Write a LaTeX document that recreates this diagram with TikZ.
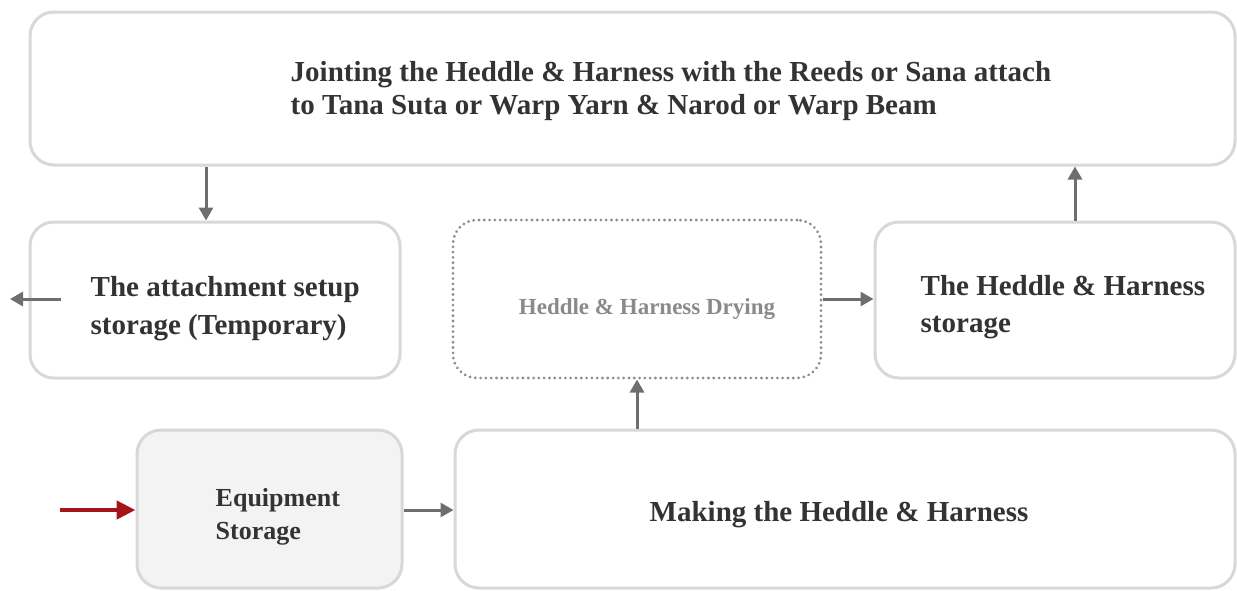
\documentclass[tikz,border=0pt]{standalone}
\usepackage{fontspec}
\setmainfont{Liberation Serif}
\usetikzlibrary{arrows.meta, positioning}
\definecolor{boxline}{HTML}{D8D8D8}
\definecolor{arrgray}{HTML}{6E6E6E}
\definecolor{txt}{HTML}{333333}
\definecolor{drytxt}{HTML}{8A8A8A}
\definecolor{dotgray}{HTML}{8C8C8C}
\definecolor{equipfill}{HTML}{F3F3F3}
\definecolor{inred}{HTML}{A3141B}

\begin{document}
\begin{tikzpicture}[x=1pt, y=-1pt,
  box/.style={draw=boxline, line width=3pt, rounded corners=24pt, fill=white, inner sep=0pt},
  dotbox/.style={draw=dotgray, line width=3pt, rounded corners=24pt,
    dash pattern=on 0.1pt off 5.2pt, line cap=round, inner sep=0pt},
  lbl/.style={text=txt, align=left, inner sep=0pt},
  arr/.style={draw=arrgray, line width=3pt, -{Triangle[length=13pt,width=14pt]}},
  redarr/.style={draw=inred, line width=4.5pt, -{Triangle[length=19pt,width=18pt]}}]

\useasboundingbox (0,0) rectangle (1237,590);

% Top box
\node[box, minimum width=1205pt, minimum height=153pt] (joint) at (632.5,88.5) {};
\node[lbl, anchor=west, font=\bfseries\fontsize{29}{33}\selectfont] (jointtxt)
  at ([xshift=262pt, yshift=-3pt]joint.west)
  {Jointing the Heddle \& Harness with the Reeds or Sana attach\\
   to Tana Suta or Warp Yarn \& Narod or Warp Beam};

% Middle row
\node[box, minimum width=370pt, minimum height=156pt] (attach) at (215,300) {};
\node[lbl, anchor=west, font=\bfseries\fontsize{29}{38}\selectfont] (attachtxt)
  at ([xshift=62pt, yshift=-9pt]attach.west)
  {The attachment setup\\storage (Temporary)};

\node[dotbox, minimum width=368pt, minimum height=158pt] (dry) at (637,299) {};
\node[lbl, text=drytxt, font=\bfseries\fontsize{23}{26}\selectfont] (drytxt)
  at ([xshift=10pt, yshift=-10pt]dry.center) {Heddle \& Harness Drying};

\node[box, minimum width=360pt, minimum height=156pt] (store) at (1055,300) {};
\node[lbl, anchor=west, font=\bfseries\fontsize{29}{37}\selectfont] (storetxt)
  at ([xshift=47pt, yshift=-7pt]store.west)
  {The Heddle \& Harness\\storage};

% Bottom row
\node[box, fill=equipfill, minimum width=265pt, minimum height=158pt] (equip) at (269.5,509) {};
\node[lbl, anchor=west, font=\bfseries\fontsize{26}{33}\selectfont] (equiptxt)
  at ([xshift=80pt, yshift=-8pt]equip.west)
  {Equipment\\Storage};

\node[box, minimum width=780pt, minimum height=158pt] (make) at (845,509) {};
\node[lbl, font=\bfseries\fontsize{29}{33}\selectfont] (maketxt)
  at ([xshift=-6pt, yshift=-6pt]make.center) {Making the Heddle \& Harness};

% Free ends
\coordinate (entry) at (60,510);
\coordinate (exit) at (10,299);

% Connectors
\draw[redarr] (entry) -- (equip.west |- entry);
\draw[arr] (equip.east |- entry) -- (make.west |- entry);
\draw[arr] (dry.south |- make.north) -- (dry.south);
\draw[arr] (dry.east) -- (store.west |- dry.east);
\draw[arr] ([xshift=20pt]store.north) -- ([xshift=20pt]store.north |- joint.south);
\draw[arr] ([xshift=-9pt]attach.north |- joint.south) -- ([xshift=-9pt]attach.north);
\draw[arr] ([xshift=32pt]attach.west |- exit) -- (exit);

\end{tikzpicture}
\end{document}
